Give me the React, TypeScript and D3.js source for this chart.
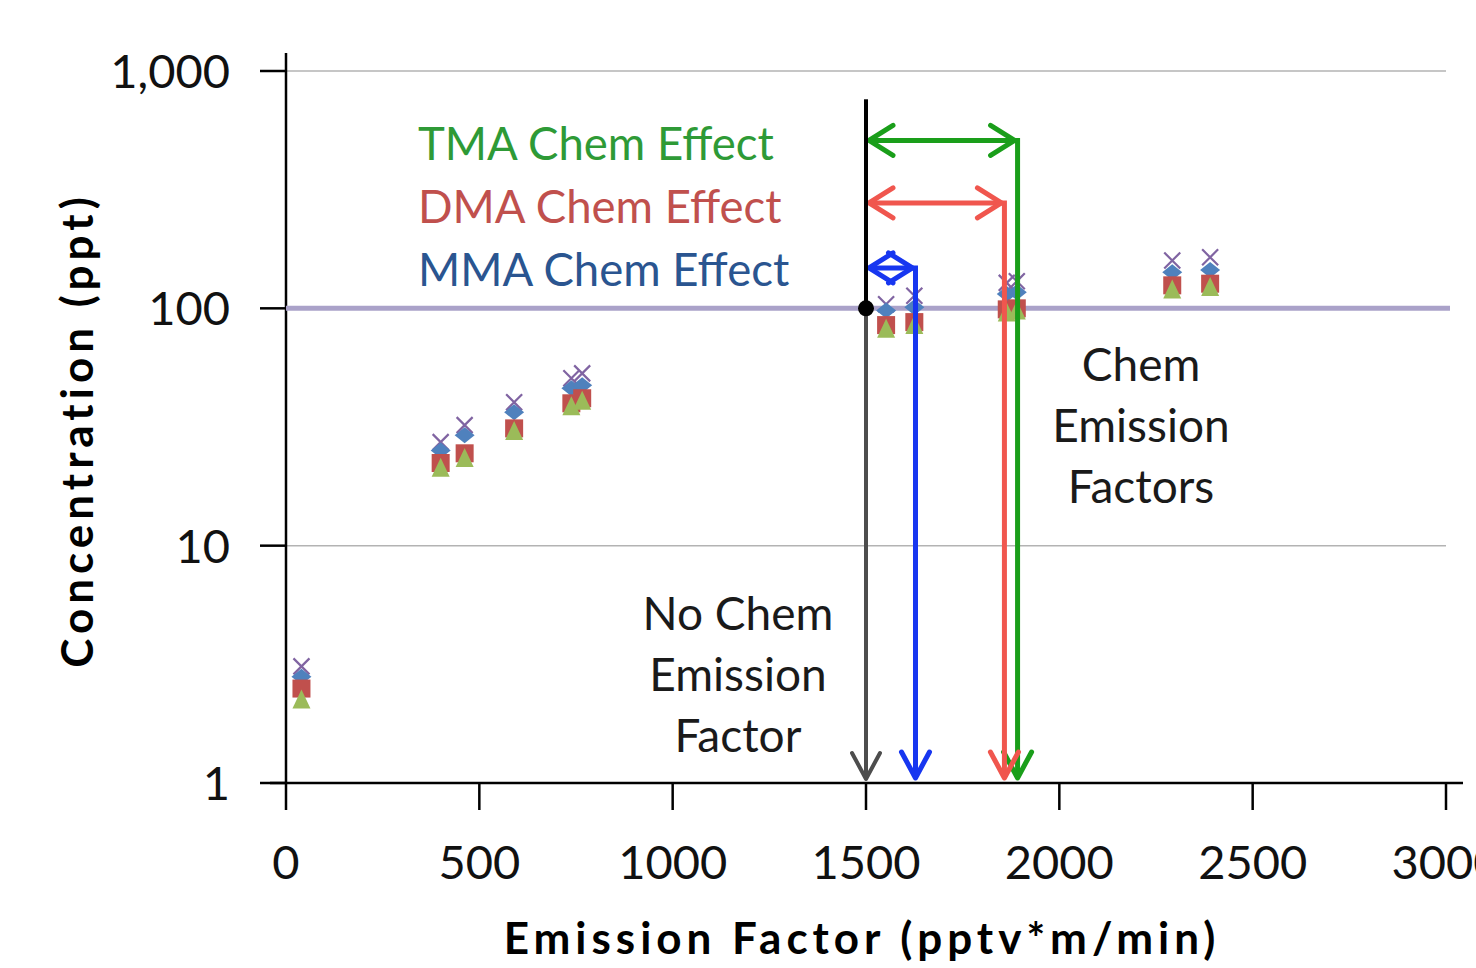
import React, { useRef, useEffect } from "react";
import * as d3 from "d3";

// emission factor (pptv*m/min) for each modelled case
const emissionFactors = [40, 400, 462, 590, 738, 766, 1552, 1625, 1864, 1890, 2292, 2390];
// concentrations (ppt), one array per marker series
const totalConc = [3.1, 27.3, 32.2, 40.2, 50.7, 53.2, 104, 113, 128, 130, 159, 164];
const mmaConc = [2.8, 25.2, 29.2, 36.5, 46.0, 47.4, 98, 101, 115, 117, 142, 145];
const dmaConc = [2.5, 22.3, 24.5, 31.2, 39.8, 41.8, 85, 87.5, 99, 100, 125, 127];
const tmaConc = [2.25, 21.3, 23.4, 30.4, 38.7, 40.8, 82, 85, 96, 98, 120, 123];

const xTicks = [0, 500, 1000, 1500, 2000, 2500, 3000];
const yTicks = [1, 10, 100, 1000];

// chem effect arrows: target emission factor and height of the horizontal arrow
const chemEffects = [
  { label: "TMA Chem Effect", factor: 1892, level: 510, text: "#2e9a36", line: "#1a9e1a" },
  { label: "DMA Chem Effect", factor: 1858, level: 278, text: "#c0504d", line: "#f0564e" },
  { label: "MMA Chem Effect", factor: 1628, level: 148, text: "#2a5590", line: "#1736f0" },
];
const noChemFactor = 1500;
const noChemTop = 760;
const targetConc = 100;

const dims = {
  width: 1476,
  height: 968,
  left: 286,
  right: 1446,
  top: 71,
  bottom: 783,
};

const font = "Lato, 'Open Sans', sans-serif";

export default function App() {
  const ref = useRef<SVGSVGElement>(null);

  useEffect(() => {
    if (!ref.current) return;
    const svg = d3.select(ref.current);
    svg.selectAll("*").remove();

    const x = d3.scaleLinear().domain([0, 3000]).range([dims.left, dims.right]);
    const y = d3.scaleLog().domain([1, 1000]).range([dims.bottom, dims.top]);

    svg.append("rect").attr("width", dims.width).attr("height", dims.height).attr("fill", "#fff");

    // gridlines
    svg.append("g").selectAll("line").data(yTicks.slice(1)).join("line")
      .attr("x1", dims.left).attr("x2", dims.right)
      .attr("y1", d => y(d)).attr("y2", d => y(d))
      .attr("stroke", "#b3b3b3").attr("stroke-width", 1.5);

    // y axis
    const yAxis = svg.append("g");
    yAxis.append("line").attr("x1", dims.left).attr("x2", dims.left).attr("y1", 53).attr("y2", dims.bottom)
      .attr("stroke", "#000").attr("stroke-width", 2.5);
    yAxis.selectAll("line.tick").data(yTicks).join("line").attr("class", "tick")
      .attr("x1", 260).attr("x2", dims.left).attr("y1", d => y(d)).attr("y2", d => y(d))
      .attr("stroke", "#000").attr("stroke-width", 2.5);
    yAxis.selectAll("text").data(yTicks).join("text")
      .attr("x", 230).attr("y", d => y(d)).attr("dy", "0.36em")
      .attr("text-anchor", "end").attr("font-family", font).attr("font-size", 47).attr("fill", "#111")
      .text(d => d3.format(",")(d));

    // x axis
    const xAxis = svg.append("g");
    xAxis.append("line").attr("x1", 270).attr("x2", 1463).attr("y1", dims.bottom).attr("y2", dims.bottom)
      .attr("stroke", "#000").attr("stroke-width", 2.5);
    xAxis.selectAll("line.tick").data(xTicks).join("line").attr("class", "tick")
      .attr("x1", d => x(d)).attr("x2", d => x(d)).attr("y1", dims.bottom).attr("y2", 810)
      .attr("stroke", "#000").attr("stroke-width", 2.5);
    xAxis.selectAll("text").data(xTicks).join("text")
      .attr("x", d => x(d)).attr("y", 862).attr("dy", "0.36em")
      .attr("text-anchor", "middle").attr("font-family", font).attr("font-size", 47).attr("fill", "#111")
      .text(d => d);

    // axis titles
    svg.append("text").attr("x", 862).attr("y", 954).attr("text-anchor", "middle")
      .attr("font-family", font).attr("font-size", 44).attr("font-weight", "bold").attr("letter-spacing", 5)
      .text("Emission Factor (pptv*m/min)");
    svg.append("text").attr("transform", "translate(93,430) rotate(-90)").attr("text-anchor", "middle")
      .attr("font-family", font).attr("font-size", 44).attr("font-weight", "bold").attr("letter-spacing", 5)
      .text("Concentration (ppt)");

    // target concentration line
    svg.append("line").attr("x1", dims.left).attr("x2", 1450).attr("y1", y(targetConc)).attr("y2", y(targetConc))
      .attr("stroke", "#aaa2c9").attr("stroke-width", 5);

    // markers
    const pts = emissionFactors.map((f, i) => ({ f, t: totalConc[i], m: mmaConc[i], d: dmaConc[i], tm: tmaConc[i] }));
    const s = 8;
    svg.append("g").selectAll("path").data(pts).join("path")
      .attr("d", p => `M${x(p.f) - s},${y(p.t) - s}L${x(p.f) + s},${y(p.t) + s}M${x(p.f) + s},${y(p.t) - s}L${x(p.f) - s},${y(p.t) + s}`)
      .attr("stroke", "#8064a2").attr("stroke-width", 2.2).attr("fill", "none");
    svg.append("g").selectAll("path").data(pts).join("path")
      .attr("d", p => `M${x(p.f) - 10},${y(p.m)}L${x(p.f)},${y(p.m) - 8}L${x(p.f) + 10},${y(p.m)}L${x(p.f)},${y(p.m) + 8}Z`)
      .attr("fill", "#4f81bd");
    svg.append("g").selectAll("rect").data(pts).join("rect")
      .attr("x", p => x(p.f) - 9).attr("y", p => y(p.d) - 9).attr("width", 18).attr("height", 18)
      .attr("fill", "#c0504d");
    svg.append("g").selectAll("path").data(pts).join("path")
      .attr("d", p => `M${x(p.f)},${y(p.tm) - 10}L${x(p.f) + 9},${y(p.tm) + 9}L${x(p.f) - 9},${y(p.tm) + 9}Z`)
      .attr("fill", "#9bbb59");

    // arrows
    const head = (g: any, px: number, py: number, dir: "down" | "left" | "right", color: string, w: number) => {
      let dstr = "";
      if (dir === "down") dstr = `M${px - 14},${py - 26}L${px},${py}L${px + 14},${py - 26}`;
      if (dir === "left") dstr = `M${px + 24},${py - 15}L${px},${py}L${px + 24},${py + 15}`;
      if (dir === "right") dstr = `M${px - 24},${py - 15}L${px},${py}L${px - 24},${py + 15}`;
      g.append("path").attr("d", dstr).attr("fill", "none").attr("stroke", color).attr("stroke-width", w)
        .attr("stroke-linecap", "round").attr("stroke-linejoin", "round");
    };
    const arrows = svg.append("g");
    const x0 = x(noChemFactor);
    const yTarget = y(targetConc);
    arrows.append("line").attr("x1", x0).attr("x2", x0).attr("y1", yTarget).attr("y2", dims.bottom - 4)
      .attr("stroke", "#4d4d4d").attr("stroke-width", 4);
    head(arrows, x0, dims.bottom - 4, "down", "#4d4d4d", 4);

    chemEffects.forEach(c => {
      const cx = x(c.factor);
      const cy = y(c.level);
      arrows.append("path").attr("d", `M${x0 + 3},${cy}H${cx}V${dims.bottom - 5}`)
        .attr("fill", "none").attr("stroke", c.line).attr("stroke-width", 5);
      head(arrows, x0 + 3, cy, "left", c.line, 5);
      head(arrows, cx - 3, cy, "right", c.line, 5);
      head(arrows, cx, dims.bottom - 5, "down", c.line, 5);
    });

    arrows.append("line").attr("x1", x0).attr("x2", x0).attr("y1", y(noChemTop)).attr("y2", yTarget)
      .attr("stroke", "#000").attr("stroke-width", 4);
    arrows.append("circle").attr("cx", x0).attr("cy", yTarget).attr("r", 8).attr("fill", "#000");

    // labels
    chemEffects.forEach((c, i) => {
      svg.append("text").attr("x", 418).attr("y", 160 + i * 63).attr("font-family", font).attr("font-size", 45.5)
        .attr("fill", c.text).text(c.label);
    });
    const block = (lines: string[], cx: number, by: number) => {
      lines.forEach((l, i) => {
        svg.append("text").attr("x", cx).attr("y", by + i * 61).attr("text-anchor", "middle")
          .attr("font-family", font).attr("font-size", 46).attr("fill", "#1a1a1a").text(l);
      });
    };
    block(["No Chem", "Emission", "Factor"], 738, 630);
    block(["Chem", "Emission", "Factors"], 1141, 381);
  }, []);

  return (
    <div style={{ position: "absolute", left: 0, top: 0 }}>
      <svg ref={ref} width={dims.width} height={dims.height} style={{ display: "block" }} />
    </div>
  );
}
